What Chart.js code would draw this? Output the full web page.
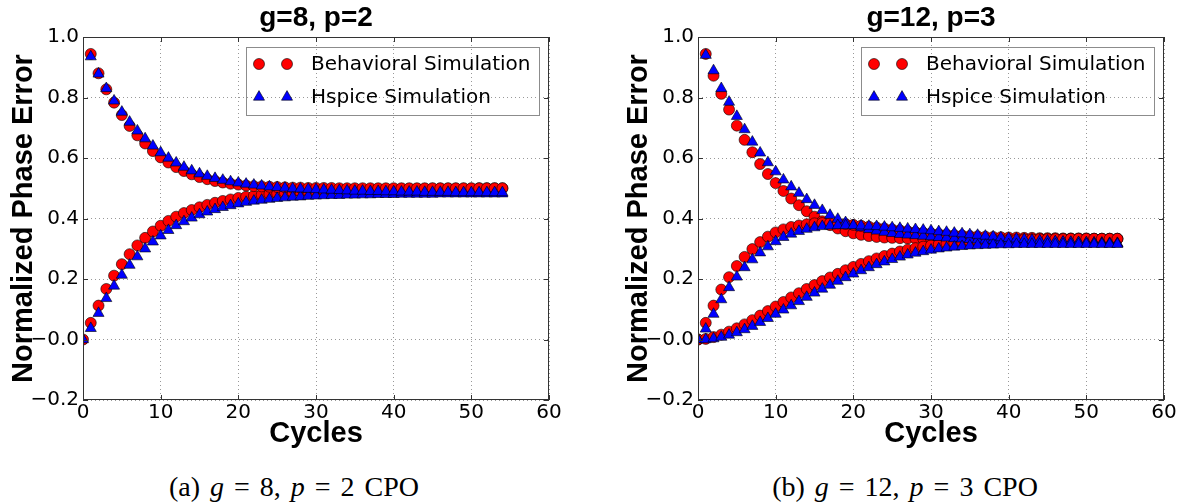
<!DOCTYPE html>
<html lang="en">
<head>
<meta charset="UTF-8" />
<title>Normalized Phase Error vs Cycles</title>
<script src="https://cdn.jsdelivr.net/npm/chart.js"></script>
<style>
  body { margin: 0; background: #fff; }
  .figure { position: relative; width: 1187px; height: 504px; overflow: hidden; background: #fff; }
  .panel { position: absolute; top: 0; }
  .caption {
    position: absolute;
    top: 470px;
    transform: translateX(-50%);
    font-family: 'Liberation Serif', 'DejaVu Serif', serif;
    font-size: 28px;
    line-height: 34px;
    word-spacing: 3px;
    white-space: nowrap;
    color: #000;
  }
</style>
</head>
<body>
<div class="figure">
  <canvas id="chartA" class="panel" width="590" height="455" style="left:0px"></canvas>
  <canvas id="chartB" class="panel" width="572" height="455" style="left:615px"></canvas>
  <div class="caption" style="left:294px">(a) <i>g</i> = 8, <i>p</i> = 2 CPO</div>
  <div class="caption" style="left:905px">(b) <i>g</i> = 12, <i>p</i> = 3 CPO</div>
</div>

<script>
  // cycle index shared by every branch (decaying branches start at cycle 1)
  const cycles = [0, 1, 2, 3, 4, 5, 6, 7, 8, 9, 10, 11, 12, 13, 14, 15, 16, 17, 18, 19,
    20, 21, 22, 23, 24, 25, 26, 27, 28, 29, 30, 31, 32, 33, 34, 35, 36, 37, 38, 39,
    40, 41, 42, 43, 44, 45, 46, 47, 48, 49, 50, 51, 52, 53, 54];

  // g=8, p=2
  const g8BehavUp = [
    0.000, 0.055, 0.112, 0.167, 0.211, 0.249, 0.282, 0.311, 0.336, 0.357,
    0.376, 0.392, 0.406, 0.418, 0.428, 0.437, 0.445, 0.452, 0.458, 0.463,
    0.468, 0.472, 0.475, 0.478, 0.481, 0.483, 0.485, 0.487, 0.488, 0.490,
    0.491, 0.492, 0.493, 0.494, 0.495, 0.495, 0.496, 0.496, 0.497, 0.497,
    0.497, 0.498, 0.498, 0.498, 0.498, 0.499, 0.499, 0.499, 0.499, 0.499,
    0.499, 0.500, 0.500, 0.500, 0.500];
  const g8BehavDown = [
    0.944, 0.880, 0.827, 0.783, 0.742, 0.706, 0.675, 0.648, 0.623, 0.602,
    0.585, 0.570, 0.557, 0.546, 0.537, 0.530, 0.524, 0.519, 0.515, 0.512,
    0.509, 0.507, 0.506, 0.505, 0.504, 0.503, 0.502, 0.502, 0.501, 0.501,
    0.501, 0.501, 0.500, 0.500, 0.500, 0.500, 0.500, 0.500, 0.500, 0.500,
    0.500, 0.500, 0.500, 0.500, 0.500, 0.500, 0.500, 0.500, 0.500, 0.500,
    0.500, 0.500, 0.500, 0.500];
  const g8HspUp = [
    0.000, 0.037, 0.087, 0.136, 0.177, 0.213, 0.246, 0.274, 0.300, 0.323,
    0.343, 0.361, 0.377, 0.390, 0.402, 0.413, 0.422, 0.430, 0.437, 0.443,
    0.449, 0.454, 0.458, 0.461, 0.464, 0.467, 0.469, 0.471, 0.472, 0.474,
    0.475, 0.476, 0.477, 0.477, 0.478, 0.478, 0.479, 0.479, 0.480, 0.480,
    0.480, 0.481, 0.481, 0.481, 0.481, 0.481, 0.482, 0.482, 0.482, 0.482,
    0.482, 0.482, 0.482, 0.482, 0.482];
  const g8HspDown = [
    0.935, 0.878, 0.830, 0.789, 0.752, 0.719, 0.690, 0.664, 0.640, 0.618,
    0.600, 0.584, 0.570, 0.558, 0.548, 0.540, 0.533, 0.527, 0.522, 0.518,
    0.514, 0.511, 0.508, 0.505, 0.503, 0.501, 0.499, 0.498, 0.497, 0.496,
    0.495, 0.494, 0.493, 0.492, 0.491, 0.491, 0.490, 0.490, 0.489, 0.489,
    0.488, 0.488, 0.488, 0.487, 0.487, 0.487, 0.487, 0.486, 0.486, 0.486,
    0.486, 0.486, 0.486, 0.486];

  // g=12, p=3
  const g12BehavDown = [
    0.944, 0.872, 0.812, 0.760, 0.707, 0.660, 0.619, 0.580, 0.547, 0.517,
    0.491, 0.466, 0.444, 0.424, 0.406, 0.391, 0.378, 0.367, 0.358, 0.351,
    0.346, 0.342, 0.339, 0.337, 0.336, 0.335, 0.334, 0.334, 0.333, 0.333,
    0.333, 0.333, 0.333, 0.333, 0.333, 0.333, 0.333, 0.333, 0.333, 0.333,
    0.333, 0.333, 0.333, 0.333, 0.333, 0.333, 0.333, 0.333, 0.333, 0.333,
    0.333, 0.333, 0.333, 0.333];
  const g12BehavFast = [
    0.000, 0.055, 0.112, 0.165, 0.206, 0.243, 0.273, 0.299, 0.322, 0.340,
    0.354, 0.364, 0.372, 0.377, 0.381, 0.384, 0.385, 0.385, 0.384, 0.382,
    0.379, 0.376, 0.373, 0.370, 0.367, 0.364, 0.361, 0.358, 0.355, 0.353,
    0.351, 0.349, 0.347, 0.345, 0.344, 0.342, 0.341, 0.340, 0.339, 0.338,
    0.337, 0.337, 0.336, 0.336, 0.335, 0.335, 0.335, 0.334, 0.334, 0.334,
    0.334, 0.333, 0.333, 0.333, 0.333];
  const g12BehavSlow = [
    0.000, 0.002, 0.008, 0.016, 0.026, 0.037, 0.050, 0.064, 0.079, 0.094,
    0.109, 0.124, 0.139, 0.153, 0.167, 0.180, 0.193, 0.205, 0.217, 0.229,
    0.240, 0.250, 0.259, 0.268, 0.276, 0.284, 0.291, 0.297, 0.302, 0.307,
    0.311, 0.315, 0.318, 0.320, 0.322, 0.324, 0.326, 0.327, 0.328, 0.329,
    0.330, 0.330, 0.331, 0.331, 0.332, 0.332, 0.332, 0.332, 0.333, 0.333,
    0.333, 0.333, 0.333, 0.333, 0.333];
  const g12HspDown = [
    0.940, 0.889, 0.830, 0.785, 0.738, 0.694, 0.653, 0.617, 0.585, 0.555,
    0.528, 0.505, 0.484, 0.463, 0.444, 0.427, 0.411, 0.398, 0.387, 0.377,
    0.370, 0.364, 0.359, 0.355, 0.351, 0.348, 0.346, 0.344, 0.342, 0.340,
    0.338, 0.336, 0.334, 0.333, 0.331, 0.330, 0.329, 0.328, 0.327, 0.326,
    0.325, 0.324, 0.323, 0.322, 0.322, 0.321, 0.321, 0.320, 0.320, 0.319,
    0.319, 0.319, 0.318, 0.318];
  const g12HspFast = [
    0.000, 0.035, 0.084, 0.132, 0.172, 0.207, 0.238, 0.264, 0.287, 0.307,
    0.324, 0.338, 0.349, 0.358, 0.365, 0.370, 0.374, 0.376, 0.377, 0.377,
    0.377, 0.376, 0.375, 0.374, 0.372, 0.370, 0.368, 0.366, 0.364, 0.362,
    0.360, 0.357, 0.355, 0.352, 0.350, 0.347, 0.345, 0.342, 0.340, 0.337,
    0.335, 0.333, 0.331, 0.329, 0.327, 0.326, 0.324, 0.323, 0.322, 0.321,
    0.320, 0.319, 0.318, 0.317, 0.317];
  const g12HspSlow = [
    0.000, 0.000, 0.003, 0.008, 0.015, 0.023, 0.033, 0.044, 0.057, 0.070,
    0.084, 0.098, 0.112, 0.126, 0.140, 0.154, 0.167, 0.180, 0.193, 0.205,
    0.217, 0.228, 0.238, 0.248, 0.257, 0.265, 0.273, 0.280, 0.286, 0.291,
    0.296, 0.300, 0.303, 0.306, 0.308, 0.310, 0.311, 0.312, 0.313, 0.314,
    0.314, 0.315, 0.315, 0.315, 0.315, 0.315, 0.315, 0.315, 0.315, 0.315,
    0.315, 0.315, 0.315, 0.315, 0.315];

  const seriesNames = ['Behavioral Simulation', 'Hspice Simulation'];

  const RED = '#ff0000';
  const BLUE = '#0000ff';
  const EDGE = 'rgba(0, 0, 0, 0.75)';
  const CIRCLE_R = 5.5;
  const TRI_R = 6.4;

  function points(xs, ys) {
    return ys.map((y, i) => ({ x: xs[i], y: y }));
  }

  function marker(ctx, style, x, y, r) {
    ctx.beginPath();
    if (style === 'circle') {
      ctx.arc(x, y, r, 0, Math.PI * 2);
    } else {
      for (let k = 0; k < 3; k++) {
        const a = k * 2 * Math.PI / 3;
        const px = x + Math.sin(a) * r, py = y - Math.cos(a) * r;
        k ? ctx.lineTo(px, py) : ctx.moveTo(px, py);
      }
      ctx.closePath();
    }
    ctx.fill();
    ctx.stroke();
  }

  // frame, inward ticks, in-axes legend and the bold title
  const panelDecor = {
    id: 'panelDecor',
    afterDatasetsDraw(chart, args, opts) {
      const { ctx, chartArea: a, scales: { x, y } } = chart;
      ctx.save();

      ctx.strokeStyle = '#333';
      ctx.lineWidth = 1;
      ctx.beginPath();
      x.ticks.forEach(t => {
        const px = Math.round(x.getPixelForValue(t.value)) + 0.5;
        ctx.moveTo(px, a.bottom); ctx.lineTo(px, a.bottom - 5);
        ctx.moveTo(px, a.top); ctx.lineTo(px, a.top + 5);
      });
      y.ticks.forEach(t => {
        const py = Math.round(y.getPixelForValue(t.value)) + 0.5;
        ctx.moveTo(a.left, py); ctx.lineTo(a.left + 5, py);
        ctx.moveTo(a.right, py); ctx.lineTo(a.right - 5, py);
      });
      ctx.stroke();
      ctx.strokeRect(a.left + 0.5, a.top + 0.5, a.width - 1, a.height - 1);

      // legend
      const items = [
        { label: seriesNames[0], style: 'circle', color: RED, r: CIRCLE_R },
        { label: seriesNames[1], style: 'triangle', color: BLUE, r: TRI_R }
      ];
      ctx.font = '20px "DejaVu Sans"';
      const textW = Math.max(...items.map(it => ctx.measureText(it.label).width));
      const boxW = Math.round(65 + textW + 8), boxH = 68;
      const bx = Math.round(a.right - 10 - boxW), by = Math.round(a.top + 10);
      ctx.strokeStyle = '#8c8c8c';
      ctx.strokeRect(bx + 0.5, by + 0.5, boxW, boxH);
      items.forEach((it, i) => {
        const cy = by + 17 + i * 33;
        ctx.fillStyle = it.color;
        ctx.strokeStyle = EDGE;
        ctx.lineWidth = 0.8;
        [13, 41].forEach(dx => marker(ctx, it.style, bx + dx, cy, it.r));
        ctx.fillStyle = '#000';
        ctx.textAlign = 'left';
        ctx.textBaseline = 'middle';
        ctx.fillText(it.label, bx + 65, cy + 1);
      });

      // title
      ctx.font = 'bold 28px "Liberation Sans"';
      ctx.fillStyle = '#000';
      ctx.textAlign = 'center';
      ctx.textBaseline = 'middle';
      ctx.fillText(opts.title, (a.left + a.right) / 2, 18);
      ctx.restore();
    }
  };

  const tickFont = { family: 'DejaVu Sans', size: 20 };
  const labelFont = { family: 'Liberation Sans', size: 29, weight: 'bold' };

  function makePanel(id, title, behavPts, hspPts, rightPad) {
    new Chart(document.getElementById(id), {
      type: 'scatter',
      data: {
        datasets: [
          {
            label: seriesNames[0],
            data: behavPts,
            pointStyle: 'circle',
            pointRadius: CIRCLE_R,
            pointBackgroundColor: RED,
            pointBorderColor: EDGE,
            pointBorderWidth: 0.8,
            order: 2
          },
          {
            label: seriesNames[1],
            data: hspPts,
            pointStyle: 'triangle',
            pointRadius: TRI_R,
            pointBackgroundColor: BLUE,
            pointBorderColor: EDGE,
            pointBorderWidth: 0.8,
            order: 1
          }
        ]
      },
      options: {
        responsive: false,
        animation: false,
        layout: { padding: { top: 37, right: rightPad, left: 0, bottom: 0 } },
        plugins: {
          legend: { display: false },
          tooltip: { enabled: false },
          panelDecor: { title: title }
        },
        scales: {
          x: {
            type: 'linear',
            min: 0,
            max: 60,
            ticks: { stepSize: 10, padding: 1, color: '#000', font: tickFont },
            grid: { color: 'rgba(0, 0, 0, 0.4)', lineWidth: 1, drawTicks: false },
            border: { display: false, dash: [1, 3] },
            title: { display: true, text: 'Cycles', color: '#000', font: labelFont, padding: { top: 0, bottom: 4 } },
            afterFit: s => { s.height = 55; }
          },
          y: {
            min: -0.2,
            max: 1.0,
            ticks: {
              stepSize: 0.2,
              padding: 4,
              color: '#000',
              font: tickFont,
              callback: v => v.toFixed(1).replace('-', '\u2212')
            },
            grid: { color: 'rgba(0, 0, 0, 0.4)', lineWidth: 1, drawTicks: false },
            border: { display: false, dash: [1, 3] },
            title: { display: true, text: 'Normalized Phase Error', color: '#000', font: labelFont, padding: { top: 7, bottom: 0 } },
            afterFit: s => { s.width = 83; }
          }
        }
      },
      plugins: [panelDecor]
    });
  }

  const later = cycles.slice(1);

  makePanel('chartA', 'g=8, p=2',
    points(cycles, g8BehavUp).concat(points(later, g8BehavDown)),
    points(cycles, g8HspUp).concat(points(later, g8HspDown)),
    41);

  makePanel('chartB', 'g=12, p=3',
    points(later, g12BehavDown).concat(points(cycles, g12BehavFast), points(cycles, g12BehavSlow)),
    points(later, g12HspDown).concat(points(cycles, g12HspFast), points(cycles, g12HspSlow)),
    23);
</script>
</body>
</html>
